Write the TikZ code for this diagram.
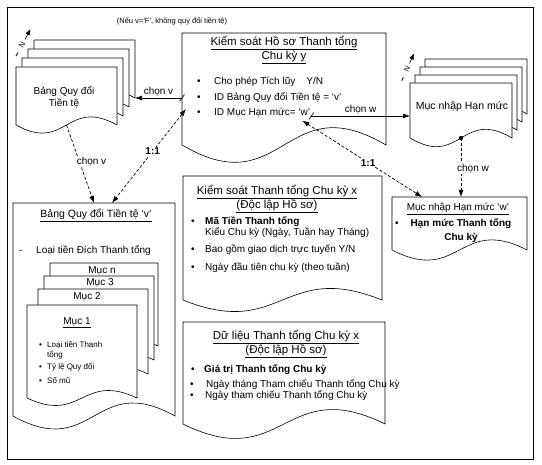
\documentclass[tikz,border=0pt]{standalone}
\usepackage{fontspec}
\setmainfont{Liberation Sans}
\usepackage{tikz}
\usetikzlibrary{arrows.meta,calc,fit,positioning}

\tikzset{
  docarea/.style={inner sep=0pt, outer sep=0pt},
  docline/.style={draw=black, line width=0.6pt, fill=white},
  headtext/.style={font=\fontsize{11.5}{14.5}\selectfont, align=center, inner sep=0pt},
  itemtext/.style={font=\fontsize{10}{11}\selectfont, anchor=west, inner sep=0pt},
  notetext/.style={font=\fontsize{7.5}{9}\selectfont, inner sep=0pt},
  smalltext/.style={font=\fontsize{8}{10}\selectfont, anchor=west, inner sep=0pt},
  pagetext/.style={font=\fontsize{10}{12}\selectfont, align=center, inner sep=0pt},
  linktext/.style={font=\fontsize{10}{12}\selectfont, inner sep=1pt},
  onetoone/.style={font=\fontsize{10}{12}\selectfont\bfseries, fill=white, inner sep=1pt},
  solidarrow/.style={-{Latex[length=7pt,width=5pt]}, line width=0.6pt},
  dasharrow/.style={-{Latex[length=7pt,width=5pt]}, line width=0.7pt, dash pattern=on 3pt off 2pt},
}

% trang tai lieu: canh duoi luon song
\newcommand{\docwave}[2]{%
  \path[docline] let \p1=($(#1.south east)-(#1.south west)$) in
    (#1.south west) -- (#1.north west) -- (#1.north east) -- (#1.south east)
    .. controls +(-0.5*\x1,#2pt) and +(0.5*\x1,-#2pt) .. (#1.south west) -- cycle;}
\newcommand{\bul}[1]{\makebox[#1][l]{\textbullet}}

\begin{document}
\begin{tikzpicture}[x=1pt, y=-1pt]
\useasboundingbox (0,0) rectangle (542,465);
\draw[line width=1pt] (7,8) rectangle (533,460);
\node[notetext] (ghichu) at (172,21) {(Nếu v='F', không quy đổi tiền tệ)};

% chong Bang Quy doi Tien te
\node[docarea, fit={(34,40) (135,98)}] (bqd3) {};
\node[docarea, fit={(28,49) (129,107)}] (bqd2) {};
\node[docarea, fit={(22,58) (123,116)}] (bqd1) {};
\node[docarea, fit={(16,67) (117,125)}] (bqd) {};
\docwave{bqd3}{28}\docwave{bqd2}{28}\docwave{bqd1}{28}\docwave{bqd}{28}
\node[pagetext] (bqdtext) at (64,97) {Bảng Quy đổi\\Tiền tệ};
\node[notetext, rotate=62] (nleft) at (22,45) {N};
\draw[line width=0.8pt] ($(nleft)+(-6,11)$) -- ($(nleft)+(-4,7.5)$);
\draw[-{Latex[length=6pt,width=5pt]}, line width=0.6pt] ($(nleft)+(3,-5.5)$) -- ($(nleft)+(8.5,-16)$);

% chong Muc nhap Han muc
\node[docarea, fit={(425,59) (527,114)}] (mnhm3) {};
\node[docarea, fit={(420,67) (522,122)}] (mnhm2) {};
\node[docarea, fit={(415,75) (517,130)}] (mnhm1) {};
\node[docarea, fit={(410,83) (512,138)}] (mnhm) {};
\docwave{mnhm3}{30}\docwave{mnhm2}{30}\docwave{mnhm1}{30}\docwave{mnhm}{30}
\node[pagetext, font=\fontsize{10.5}{12}\selectfont] (mnhmtext) at (462,107) {Mục nhập Hạn mức};
\node[notetext, rotate=66] (nright) at (407,69) {N};
\draw[line width=0.8pt] ($(nright)+(-5.3,11.8)$) -- ($(nright)+(-3.7,8.2)$);
\draw[-{Latex[length=6pt,width=5pt]}, line width=0.6pt] ($(nright)+(2.5,-5.5)$) -- ($(nright)+(7,-15.5)$);

% Kiem soat Ho so Thanh tong Chu ky y
\node[docarea, fit={(182,33) (386,145)}] (kshs) {};
\docwave{kshs}{60}
\node[headtext] (kshstitle) at (284,50) {\underline{Kiểm soát Hồ sơ Thanh tổng}\\\underline{Chu kỳ y}};
\node[itemtext] (cpt) at (197,82) {\bul{17pt}Cho phép Tích lũy\hspace{11pt}Y/N};
\node[itemtext] (idbqd) at (197,98) {\bul{17pt}ID Bảng Quy đổi Tiền tệ = `v'};
\node[itemtext] (idmhm) at (197,113) {\bul{17pt}ID Mục Hạn mức= `w'};

% Muc nhap Han muc 'w'
\node[docarea, fit={(392,197) (527,250)}] (mnhmw) {};
\docwave{mnhmw}{35}
\node[headtext, font=\fontsize{10}{12}\selectfont] (mnhmwtitle) at (458,209) {\underline{Mục nhập Hạn mức `w'}};
\node[itemtext] (mnhmwbul) at (395,224) {\textbullet};
\node[pagetext, font=\fontsize{10}{14}\selectfont\bfseries] (hmtt) at (461,231) {Hạn mức Thanh tổng\\Chu kỳ};

% Kiem soat Thanh tong Chu ky x
\node[docarea, fit={(183,176) (382,300)}] (ktx) {};
\docwave{ktx}{40}
\node[headtext] (ktxtitle) at (277,199) {\underline{Kiểm soát Thanh tổng Chu kỳ x}\\\underline{(Độc lập Hồ sơ)}};
\node[itemtext] (mtt) at (191,222) {\bul{14pt}\textbf{Mã Tiền Thanh tổng}};
\node[itemtext] (kck) at (205,233) {Kiểu Chu kỳ (Ngày, Tuần hay Tháng)};
\node[itemtext] (bggd) at (191,250) {\bul{14pt}Bao gồm giao dịch trực tuyến Y/N};
\node[itemtext] (ndt) at (191,268) {\bul{14pt}Ngày đầu tiên chu kỳ (theo tuần)};

% Du lieu Thanh tong Chu ky x
\node[docarea, fit={(183,322) (385,424)}] (dl) {};
\docwave{dl}{50}
\node[headtext] (dltitle) at (286,344) {\underline{Dữ liệu Thanh tổng Chu kỳ x}\\\underline{(Độc lập Hồ sơ)}};
\node[itemtext] (gt) at (191,370) {\bul{13pt}\textbf{Giá trị Thanh tổng Chu kỳ}};
\node[itemtext] (ntt) at (190,385) {\bul{16pt}Ngày tháng Tham chiếu Thanh tổng Chu kỳ};
\node[itemtext] (ntc) at (190,396) {\bul{15pt}Ngày tham chiếu Thanh tổng Chu kỳ};

% Bang Quy doi Tien te 'v'
\node[docarea, fit={(13,203) (175,416)}] (bqdv) {};
\docwave{bqdv}{45}
\node[headtext, font=\fontsize{10.5}{12}\selectfont] (bqdvtitle) at (96,215) {\underline{Bảng Quy đổi Tiền tệ `v'}};
\node[itemtext] (ltd) at (19,251) {\makebox[17pt][l]{-}Loại tiền Đích Thanh tổng};
\node[docarea, fit={(50,263) (158,346)}] (mucn) {};
\node[docarea, fit={(44,276) (154,360)}] (muc3) {};
\node[docarea, fit={(38,289) (148,374)}] (muc2) {};
\node[docarea, fit={(27,305) (137,398)}] (muc1) {};
\docwave{mucn}{26}\docwave{muc3}{26}\docwave{muc2}{26}\docwave{muc1}{26}
\node[pagetext] (mucntext) at (102,271) {Mục n};
\node[pagetext] (muc3text) at (100,283) {Mục 3};
\node[pagetext] (muc2text) at (87,297) {Mục 2};
\node[pagetext] (muc1text) at (77,323) {\underline{Mục 1}};
\node[smalltext, align=left] (ltt) at (39,350) {\bul{8pt}Loại tiền Thanh\\\hspace*{8pt}tổng};
\node[smalltext] (tlqd) at (39,367) {\bul{8pt}Tỷ lệ Quy đổi};
\node[smalltext] (som) at (39,380) {\bul{8pt}Số mũ};

% lien ket
\coordinate (vstart) at (kshs.west |- idbqd.west);
\draw[solidarrow] (vstart) -- (bqd3.east |- vstart) node[linktext, midway, above=1pt] {chọn v};
\draw[line width=0.6pt] ($(vstart)+(-2.5,3.5)$) -- ($(vstart)+(2.5,-3.5)$);
\coordinate (wstart) at ($(idmhm.east)+(1,3)$);
\draw[solidarrow] (wstart) -- (mnhm.west |- wstart) node[linktext, midway, above=1pt] {chọn w};
\draw[line width=0.6pt] ($(wstart)+(-2.5,3.5)$) -- ($(wstart)+(2.5,-3.5)$);

\coordinate (bqdmid) at ($(bqd.south west)!0.5!(bqd.south east)$);
\draw[dasharrow] (bqdmid) -- (bqdv.north) node[linktext, pos=0.47, right=-4pt, fill=white] {chọn v};
\draw[dasharrow, {Latex[length=7pt,width=5pt]}-{Latex[length=7pt,width=5pt]}] ($(kshs.west)+(4,20)$) -- ($(bqdv.north)+(18,0)$) node[onetoone, pos=0.45] {1:1};
\draw[dasharrow, {Latex[length=7pt,width=5pt]}-{Latex[length=7pt,width=5pt]}] ($(idmhm.south east)+(-8,3)$) -- ($(mnhmw.north west)+(30,0)$) node[onetoone, pos=0.55] {1:1};
\coordinate (mnhmmid) at ($(mnhm.south west)!0.5!(mnhm.south east)$);
\fill (mnhmmid) circle (2.2);
\draw[dasharrow] (mnhmmid) -- (mnhmw.north -| mnhmmid) node[linktext, pos=0.52, fill=white, xshift=12pt] {chọn w};
\end{tikzpicture}
\end{document}
